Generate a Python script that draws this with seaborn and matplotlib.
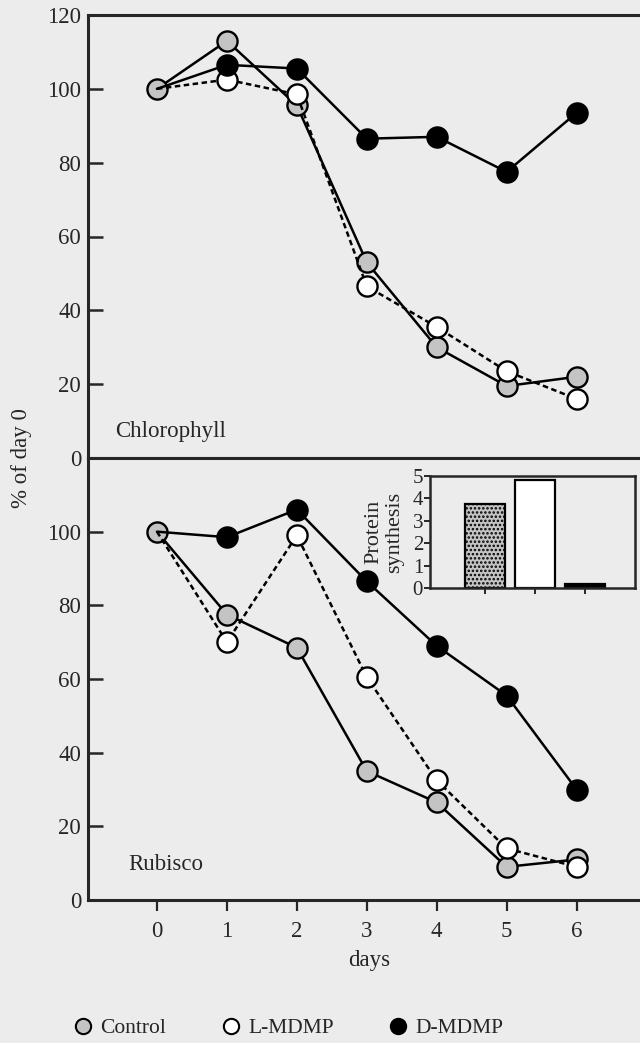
import matplotlib
matplotlib.use("Agg")
import matplotlib.pyplot as plt
import seaborn as sns
from matplotlib.lines import Line2D

# ---- data ----
days = [0, 1, 2, 3, 4, 5, 6]

chl_control = [100, 113, 95.5, 53, 30, 19.5, 22]
chl_lmdmp = [100, 102.5, 98.5, 46.5, 35.5, 23.5, 16]
chl_dmdmp = [100, 106.5, 105.5, 86.5, 87, 77.5, 93.5]

rub_control = [100, 77.5, 68.5, 35, 26.5, 9, 11]
rub_lmdmp = [100, 70, 99, 60.5, 32.5, 14, 9]
rub_dmdmp = [100, 98.5, 106, 86.5, 69, 55.5, 30]

treatments = ["Control", "L-MDMP", "D-MDMP"]
protein_synthesis = [3.75, 4.8, 0.2]

top_yticks = [0, 20, 40, 60, 80, 100, 120]
bottom_yticks = [0, 20, 40, 60, 80, 100]

# ---- style ----
sns.set_style("ticks")
BG = "#ececec"
STIPPLE = "#c4c4c4"
plt.rcParams["font.family"] = ["Liberation Serif", "DejaVu Serif"]
plt.rcParams["axes.linewidth"] = 2.2
plt.rcParams["hatch.linewidth"] = 1.2
plt.rcParams["hatch.color"] = "#777777"

FS = 16.5
series_style = {
    "Control": dict(markerfacecolor=STIPPLE, linestyle="-", markevery=None),
    "L-MDMP": dict(markerfacecolor="white", linestyle=(0, (2.2, 1.4)), markevery=slice(1, None)),
    "D-MDMP": dict(markerfacecolor="black", linestyle="-", markevery=slice(1, None)),
}

W, H = 640, 1043
fig = plt.figure(figsize=(W / 100, H / 100), dpi=100, facecolor=BG)

def px_axes(left, top, right, bottom):
    return fig.add_axes([left / W, 1 - bottom / H, (right - left) / W, (bottom - top) / H])

ax_top = px_axes(88, 15, 650, 458)
ax_bot = px_axes(88, 458, 650, 900)

XLIM = (-0.986, 7.05)

def draw_panel(ax, values_by_series):
    ax.set_facecolor(BG)
    for name in ["Control", "L-MDMP", "D-MDMP"]:
        st = series_style[name]
        sns.lineplot(
            x=days, y=values_by_series[name], ax=ax, color="black", linewidth=1.8,
            marker="o", markersize=14.5, markeredgecolor="black", markeredgewidth=1.7,
            markerfacecolor=st["markerfacecolor"], linestyle=st["linestyle"],
            markevery=st["markevery"], zorder=3,
        )
    ax.set_xlim(*XLIM)
    ax.set_ylim(0, 120)
    ax.spines["right"].set_visible(False)
    for s in ["left", "top", "bottom"]:
        ax.spines[s].set_linewidth(2.2)
    ax.tick_params(axis="y", direction="in", length=11, width=1.8, labelsize=FS, pad=5)
    ax.set_xlabel("")
    ax.set_ylabel("")

draw_panel(ax_top, {"Control": chl_control, "L-MDMP": chl_lmdmp, "D-MDMP": chl_dmdmp})
draw_panel(ax_bot, {"Control": rub_control, "L-MDMP": rub_lmdmp, "D-MDMP": rub_dmdmp})

ax_top.set_yticks(top_yticks)
ax_top.set_xticks([])
ax_bot.set_yticks(bottom_yticks)
ax_bot.set_xticks(days)
ax_bot.tick_params(axis="x", direction="out", length=8, width=1.6, labelsize=FS, pad=7)
ax_bot.set_xlabel("days", fontsize=FS, labelpad=6)

ax_top.text(-0.6, 5.7, "Chlorophyll", fontsize=FS, va="baseline", ha="left")
ax_bot.text(-0.41, 8.2, "Rubisco", fontsize=FS, va="baseline", ha="left")

fig.text(22 / W, 1 - 458 / H, "% of day 0", rotation=90, fontsize=FS, ha="center", va="center")

# ---- inset: protein synthesis ----
ax_in = px_axes(430, 476, 635, 588)
ax_in.set_facecolor(BG)
sns.barplot(x=treatments, y=protein_synthesis, ax=ax_in, color="white", width=0.8,
            edgecolor="black", linewidth=1.6, saturation=1)
bar_fill = [STIPPLE, "white", "black"]
for patch, fc in zip(ax_in.patches, bar_fill):
    patch.set_facecolor(fc)
ax_in.patches[0].set_hatch("....")
ax_in.set_xlim(-1.1, 3.0)
ax_in.set_ylim(0, 5)
ax_in.set_yticks([0, 1, 2, 3, 4, 5])
ax_in.set_xticks([0, 1, 2])
ax_in.set_xticklabels([])
ax_in.set_xlabel("")
for s in ax_in.spines.values():
    s.set_visible(True)
    s.set_linewidth(1.8)
ax_in.tick_params(axis="y", direction="out", length=4, width=1.4, labelsize=15, pad=1)
ax_in.tick_params(axis="x", direction="out", length=4, width=1.4)
ax_in.set_ylabel("Protein\nsynthesis", fontsize=16, linespacing=1.15, labelpad=6)

# ---- legend ----
handles = [
    Line2D([], [], marker="o", linestyle="none", markersize=11, markeredgecolor="black",
           markeredgewidth=1.5, markerfacecolor=f)
    for f in [STIPPLE, "white", "black"]
]
fig.legend(handles, treatments, loc="center", bbox_to_anchor=(0.45, 1 - 1028 / H),
           ncol=3, frameon=False, fontsize=15.5, handletextpad=0.3, columnspacing=2.5,
           handlelength=1.0)

fig.savefig("out.png", dpi=100, facecolor=BG)
